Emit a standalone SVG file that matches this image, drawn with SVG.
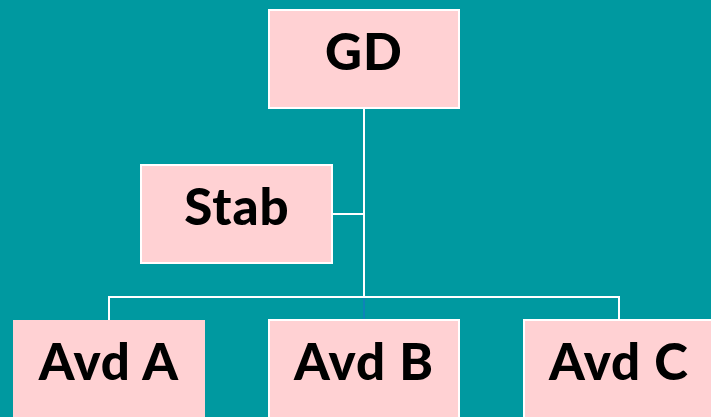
<svg xmlns="http://www.w3.org/2000/svg" width="711" height="417" viewBox="0 0 711 417">
<style>
.box{fill:#FFD1D3;stroke:#FFFFFF;stroke-width:2}
.nob{fill:#FFD1D3}
.lbl{font-family:Lato,"Liberation Sans",sans-serif;font-weight:900;font-size:51px;letter-spacing:1px;fill:#000;text-anchor:middle}
.ln{stroke:#FFFFFF;stroke-width:2;fill:none}
</style>
<rect x="0" y="0" width="711" height="417" fill="#0099A0"/>
<g id="connectors">
<line class="ln" x1="364" y1="108" x2="364" y2="297"/>
<line class="ln" x1="332" y1="214" x2="364" y2="214"/>
<polyline class="ln" points="109,320 109,297 619,297 619,320"/>
<line x1="364" y1="298" x2="364" y2="320" stroke="#1E6FD0" stroke-width="1"/>
</g>
<g id="gd"><rect class="box" x="269" y="10" width="190" height="98"/><text class="lbl" x="364" y="70">GD</text></g>
<g id="stab"><rect class="box" x="141" y="165" width="191" height="98"/><text class="lbl" x="237" y="225">Stab</text></g>
<g id="avdA"><rect class="nob" x="13" y="320" width="192" height="110"/><text class="lbl" x="109" y="380">Avd A</text></g>
<g id="avdB"><rect class="box" x="269" y="320" width="190" height="110"/><text class="lbl" x="364" y="380">Avd B</text></g>
<g id="avdC"><rect class="box" x="524" y="320" width="200" height="110"/><text class="lbl" x="619" y="380">Avd C</text></g>
</svg>
